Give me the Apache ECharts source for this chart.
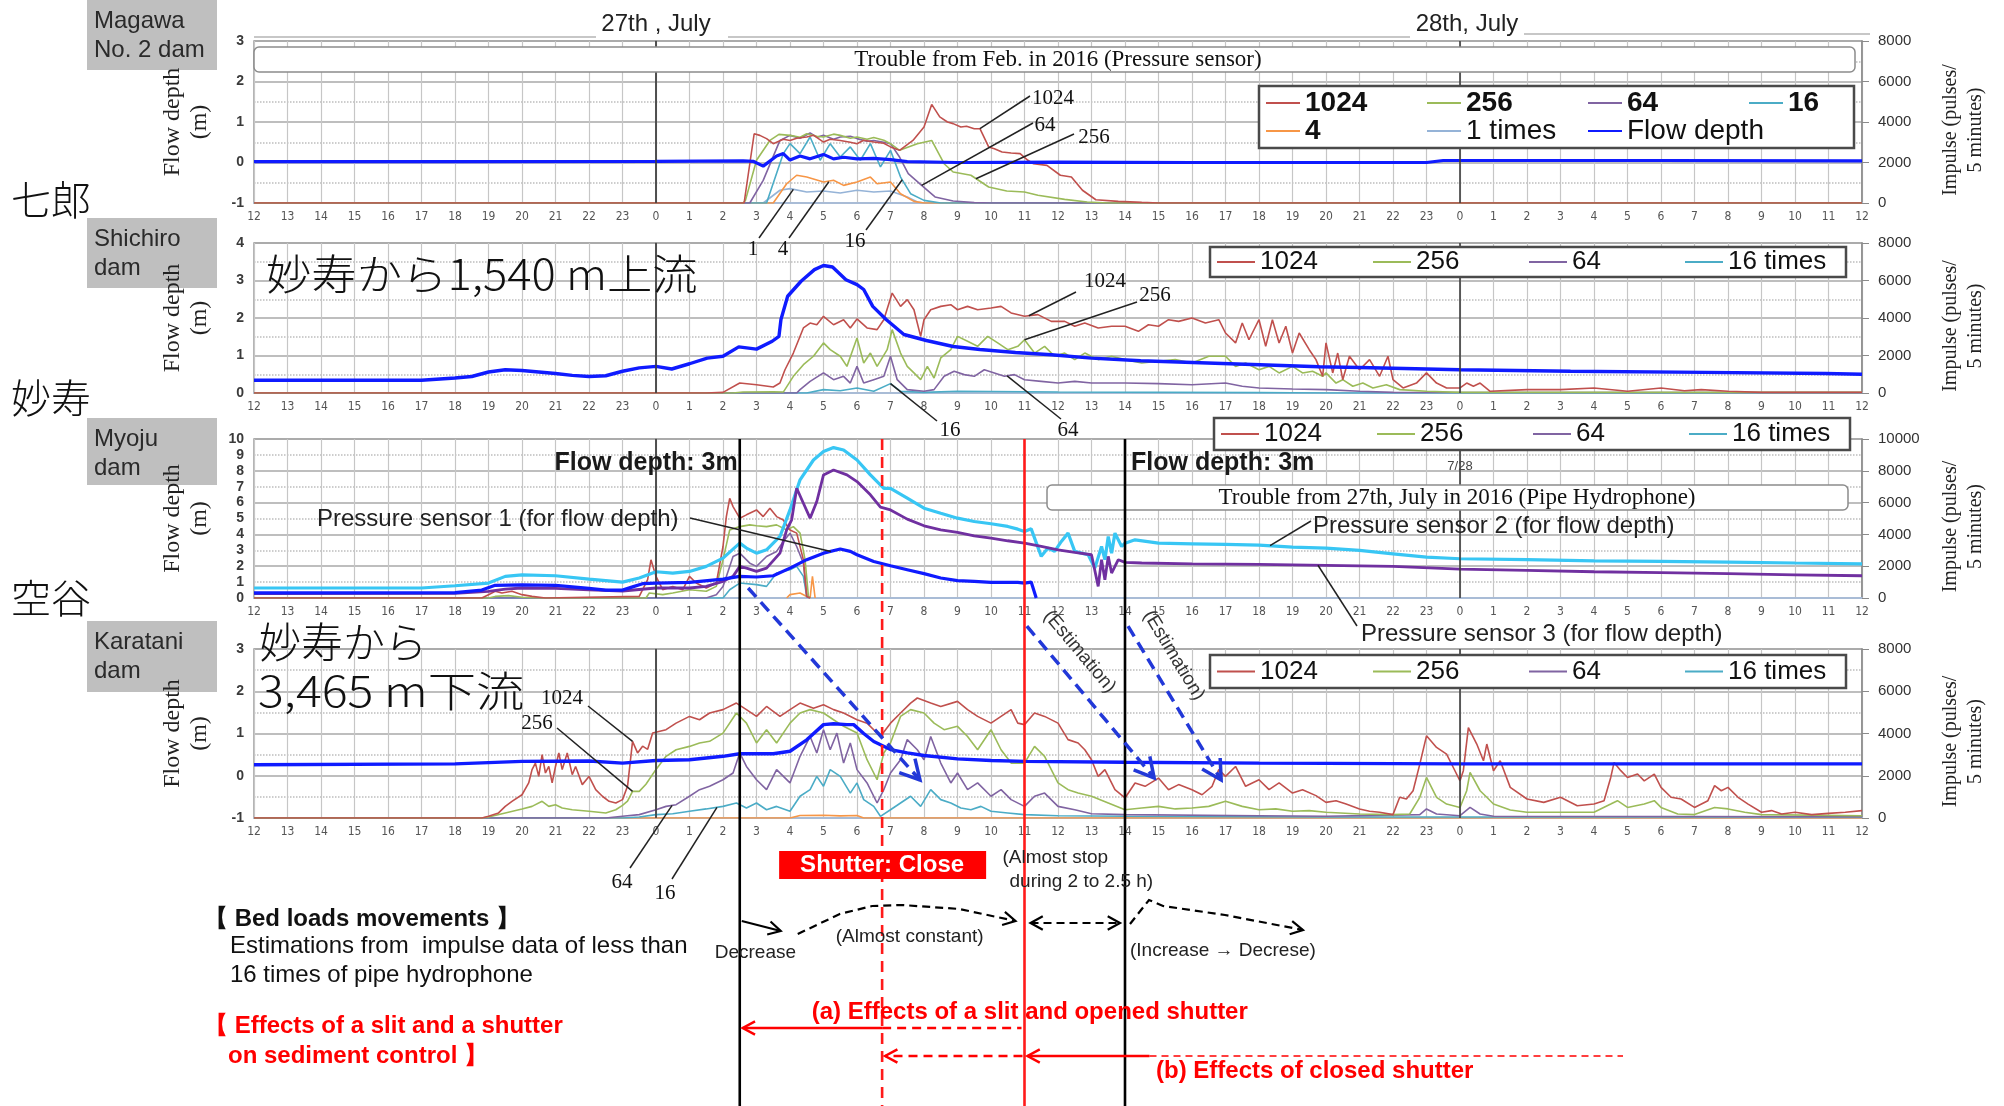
<!DOCTYPE html>
<html>
<head>
<meta charset="utf-8">
<script src="https://cdn.jsdelivr.net/npm/echarts@6/dist/echarts.min.js"></script>
<style>
html,body{margin:0;padding:0;background:#fff;}
#chart{width:2004px;height:1106px;}
</style>
</head>
<body>
<div id="chart"></div>
<script>
// ---- time axis: hours relative to 27 July 00:00 (26 Jul 12:00 -> 28 Jul 12:00) ----
const hourLabels = ['12','13','14','15','16','17','18','19','20','21','22','23',
  '0','1','2','3','4','5','6','7','8','9','10','11','12','13','14','15','16','17','18','19','20','21','22','23',
  '0','1','2','3','4','5','6','7','8','9','10','11','12'];

// ---- Magawa No.2 dam: flow depth (m) and pipe hydrophone impulses (pulses / 5 min) ----
const magawaFlow = [[-12,0.02],[-6,0.02],[0,0.03],[2.6,0.04],[2.9,0.03],[3.2,-0.09],[3.6,0.16],[3.8,0.22],[4.0,0.06],[4.3,0.16],[4.6,0.09],[5.0,0.2],[5.3,0.09],[5.6,0.13],[6.0,0.09],[6.5,0.1],[7.0,0.07],[7.5,0.02],[9,0.0],[12,0.01],[16,0.0],[20,0.0],[23,0.0],[23.5,0.05],[30,0.05],[36,0.04]];
const magawa1024 = [[-12,0],[2.63,0],[2.93,3420],[3.1,3340],[3.3,3180],[3.5,2930],[3.8,3150],[4.0,3090],[4.2,3200],[4.5,3260],[4.7,3350],[5.0,3010],[5.2,3150],[5.5,3090],[5.8,3000],[6.0,2930],[6.2,3100],[6.5,3010],[6.8,2950],[7.0,2770],[7.27,2600],[7.67,3090],[8.0,3750],[8.23,4870],[8.47,4250],[8.7,4000],[8.87,3920],[9.1,3750],[9.27,3790],[9.5,3670],[9.67,3670],[9.93,2770],[10.1,2680],[10.33,2520],[10.6,2470],[10.87,2440],[11.1,2110],[11.27,1940],[11.67,1860],[12.07,1370],[12.4,1280],[12.73,630],[13.13,160],[13.8,80],[14.5,30],[15,0],[36,0]];
const magawa256 = [[-12,0],[2.6,0],[2.67,130],[3.0,2110],[3.4,3090],[3.67,3390],[4.0,3340],[4.3,3250],[4.5,3420],[4.8,3300],[5.0,3260],[5.3,3400],[5.5,3340],[5.8,3200],[6.0,3260],[6.3,3150],[6.5,3230],[6.8,3100],[7.0,2930],[7.27,2600],[7.8,2930],[8.23,3090],[8.6,1940],[8.87,1530],[9.4,1370],[9.93,790],[10.47,590],[11.0,540],[11.4,380],[12.2,180],[12.87,50],[13.5,0],[36,0]];
const magawa64 = [[-12,0],[2.8,0],[3.2,1120],[3.7,3090],[4.0,3340],[4.3,3200],[4.6,3460],[4.8,3250],[5.0,3340],[5.3,3150],[5.5,3260],[5.8,3300],[6.0,3180],[6.3,3050],[6.5,3090],[6.8,3000],[7.0,2930],[7.27,2270],[7.53,1450],[7.93,870],[8.33,300],[8.87,100],[9.5,20],[10,0],[36,0]];
const magawa16 = [[-12,0],[3.3,0],[3.8,2440],[4.0,2930],[4.3,2440],[4.6,3260],[4.9,2110],[5.2,2930],[5.5,2270],[5.8,2770],[6.1,2110],[6.4,2930],[6.7,1780],[7.0,2600],[7.3,1280],[7.6,460],[8.0,130],[8.5,0],[36,0]];
const magawa4 = [[-12,0],[3.5,0],[3.9,950],[4.2,1370],[4.5,1280],[5.0,1040],[5.3,1120],[5.6,870],[6.0,1040],[6.4,1280],[6.6,950],[7.0,1040],[7.3,460],[7.7,80],[8,0],[36,0]];
const magawa1 = [[-12,0],[3.2,0],[3.7,630],[4.0,710],[4.5,540],[5.0,590],[5.5,490],[6.0,630],[6.5,540],[7.0,590],[7.5,300],[7.8,50],[8,0],[36,0]];

// ---- Shichiro dam ----
const shichiroFlow = [[-12,0.34],[-7,0.34],[-6,0.4],[-5.5,0.44],[-5,0.56],[-4.5,0.62],[-4,0.6],[-3.5,0.56],[-3,0.52],[-2.5,0.47],[-2,0.44],[-1.5,0.46],[-1,0.58],[-0.5,0.67],[0,0.71],[0.47,0.64],[1.0,0.78],[1.53,0.93],[2.0,0.98],[2.47,1.23],[3.0,1.17],[3.47,1.38],[3.67,1.51],[3.73,1.96],[3.93,2.58],[4.33,2.98],[4.73,3.29],[5.0,3.4],[5.27,3.36],[5.67,3.02],[6.0,2.89],[6.2,2.76],[6.47,2.31],[6.87,1.96],[7.4,1.56],[8.07,1.4],[8.87,1.24],[9.67,1.16],[10.73,1.08],[11.8,1.02],[13.0,0.93],[14.47,0.86],[15.8,0.82],[17.13,0.78],[18.47,0.74],[19.8,0.7],[21,0.68],[24,0.62],[27.3,0.58],[31.3,0.55],[34.9,0.52],[36,0.5]];
const shichiro1024 = [[-12,0],[1.5,0],[2.0,35],[2.5,530],[3.0,440],[3.5,320],[3.7,530],[3.85,1240],[4.1,2130],[4.4,3470],[4.6,3730],[4.8,3640],[5.0,4090],[5.3,3640],[5.6,3910],[5.8,3470],[6.0,3950],[6.3,3470],[6.6,3380],[6.8,3910],[7.05,5330],[7.3,4620],[7.5,4980],[7.7,4440],[7.9,3020],[8.0,3910],[8.2,4440],[8.5,4620],[8.8,4710],[9.0,4440],[9.3,4620],[9.6,4440],[10.0,4530],[10.3,4620],[10.6,4270],[11.0,4090],[11.4,4180],[11.8,3820],[12.2,3820],[12.5,3560],[12.8,3730],[13.2,3470],[13.6,3560],[14.0,3560],[14.4,3290],[14.7,3640],[15.0,3560],[15.3,3910],[15.6,3820],[16.0,4000],[16.4,3730],[16.8,3910],[17.0,3200],[17.3,2670],[17.5,3730],[17.7,2840],[18.0,3910],[18.2,2490],[18.4,3910],[18.6,2670],[18.8,3560],[19.0,2130],[19.2,3200],[19.5,2310],[19.7,1780],[19.9,890],[20.0,2670],[20.2,1070],[20.35,2130],[20.5,710],[20.7,1960],[21.0,1240],[21.3,1780],[21.6,890],[21.85,1960],[22.0,710],[22.3,270],[22.7,530],[23.0,1070],[23.3,530],[23.6,270],[24.0,270],[24.2,530],[24.4,360],[24.6,530],[24.9,90],[26,180],[27,180],[28,270],[29,90],[30,270],[30.7,120],[31.2,180],[32,90],[33,35],[36,35]];
const shichiro256 = [[-12,0],[2.3,0],[2.6,50],[3.5,60],[3.8,50],[4.1,890],[4.4,1510],[4.7,1960],[5.0,2670],[5.2,2310],[5.5,1960],[5.7,1420],[6.0,2930],[6.2,1600],[6.4,2130],[6.6,1420],[6.9,2310],[7.05,3380],[7.3,2130],[7.5,1420],[7.7,1070],[7.9,710],[8.1,1420],[8.3,800],[8.5,1870],[8.8,2310],[9.0,3020],[9.3,2760],[9.6,2490],[9.9,3020],[10.2,2670],[10.5,2310],[10.8,2490],[11.0,2840],[11.3,2130],[11.6,2490],[11.9,1960],[12.2,2130],[12.5,1780],[12.8,2130],[13.2,1780],[13.6,1960],[14.0,1780],[14.5,1600],[15.0,1690],[15.5,1780],[16.0,1600],[16.5,1960],[17.0,1960],[17.3,1420],[17.6,1600],[18.0,1240],[18.3,1420],[18.6,1070],[19.0,1420],[19.3,1070],[19.6,1160],[19.9,890],[20.0,1070],[20.3,530],[20.5,710],[20.8,360],[21.1,530],[21.4,270],[21.8,440],[22.2,180],[23.0,90],[24,35],[36,35]];
const shichiro64 = [[-12,0],[4.2,0],[4.3,180],[4.6,620],[5.0,1070],[5.3,710],[5.6,890],[5.8,530],[6.0,1420],[6.2,530],[6.5,710],[6.8,890],[7.0,1960],[7.2,710],[7.5,180],[8.0,90],[8.3,180],[8.6,890],[8.9,1160],[9.2,980],[9.5,890],[9.8,1240],[10.1,1070],[10.4,890],[10.7,980],[11.0,710],[11.5,620],[12.0,530],[12.5,620],[13.0,530],[14.0,530],[15.0,500],[16.0,440],[17.0,530],[17.5,360],[18.0,270],[19.0,210],[20.0,180],[21,90],[22,35],[36,20]];
const shichiro16 = [[-12,0],[4.5,0],[5.0,180],[5.5,120],[6.0,270],[6.5,90],[7.0,500],[7.3,90],[8.0,35],[9,90],[12,50],[18,20],[20,0],[36,0]];

// ---- Myoju dam: three pressure sensors (m) and impulses ----
const myojuPS1 = [[-12,0.32],[-6,0.34],[-5.2,0.5],[-4.8,0.8],[-4,0.82],[-3,0.8],[-2.5,0.7],[-2,0.6],[-1.5,0.5],[-1,0.5],[-0.7,0.7],[-0.4,0.9],[0,0.94],[1,0.98],[2,1.19],[2.5,1.36],[3,1.32],[3.5,1.4],[4,1.88],[4.5,2.41],[5,2.82],[5.5,3.08],[5.8,2.93],[6,2.72],[6.5,2.3],[7,2.03],[7.5,1.78],[8,1.53],[8.5,1.26],[9,1.09],[9.5,1.05],[10,0.98],[10.8,0.98],[11.0,0.94],[11.2,1.0],[11.35,0]];
const myojuPS2 = [[-12,0.63],[-7,0.63],[-6,0.77],[-5,0.94],[-4.5,1.36],[-4,1.46],[-3,1.4],[-2,1.19],[-1,1.0],[-0.5,1.26],[0,1.65],[0.5,1.57],[1,1.67],[1.5,1.99],[2,2.51],[2.5,3.45],[2.7,3.14],[3.0,2.82],[3.3,3.03],[3.7,3.87],[4.0,5.54],[4.3,7.43],[4.7,8.68],[5.0,9.21],[5.3,9.46],[5.6,9.31],[6.0,8.68],[6.4,7.74],[6.8,6.9],[7.0,6.9],[7.5,6.28],[8,5.65],[8.5,5.33],[9,5.02],[9.5,4.81],[10,4.67],[10.5,4.5],[10.8,4.33],[11.0,4.18],[11.2,4.35],[11.5,2.62],[11.7,3.14],[11.9,2.93],[12.1,3.56],[12.3,4.08],[12.5,2.93],[12.7,2.82],[12.9,2.72],[13.1,1.88],[13.3,3.24],[13.4,2.41],[13.5,3.87],[13.6,2.82],[13.7,4.08],[13.9,3.24],[14.0,3.45],[14.3,3.66],[15,3.45],[16,3.41],[17,3.37],[18,3.33],[19,3.2],[20,3.14],[21,2.99],[22,2.78],[23,2.57],[24,2.47],[26,2.41],[28,2.34],[30,2.3],[32,2.26],[34,2.2],[36,2.15]];
const myojuPS3 = [[-12,0.28],[-6,0.3],[-5,0.42],[-4.5,0.56],[-4,0.63],[-3,0.6],[-2,0.52],[-1,0.44],[0,0.63],[1,0.63],[1.5,0.73],[2,1.05],[2.3,1.36],[2.5,1.99],[2.7,1.88],[3.0,1.67],[3.3,1.88],[3.7,2.82],[3.9,4.29],[4.05,4.92],[4.2,6.9],[4.4,5.96],[4.6,5.02],[4.8,6.07],[5.0,7.74],[5.3,8.05],[5.7,7.74],[6.0,7.32],[6.4,6.49],[6.7,5.71],[7.0,5.54],[7.5,4.96],[8,4.54],[8.5,4.29],[9,4.12],[9.5,3.91],[10,3.77],[10.5,3.6],[11,3.45],[11.5,3.24],[12,3.03],[12.5,2.87],[13,2.72],[13.2,0.73],[13.3,2.41],[13.4,1.15],[13.5,2.62],[13.6,1.57],[13.8,2.41],[14.0,2.24],[14.5,2.2],[16,2.15],[18,2.11],[20,2.05],[22,1.99],[24,1.82],[26,1.74],[28,1.65],[30,1.59],[32,1.53],[34,1.46],[36,1.4]];
const myoju1024 = [[-12,0],[-5.2,0],[-5.0,210],[-4.8,420],[-4.6,310],[-4.3,420],[-4.0,210],[-3.7,100],[-3.3,0],[-0.5,100],[-0.25,1150],[-0.15,2400],[0,1360],[0.2,520],[0.5,730],[0.8,520],[1.0,1360],[1.2,940],[1.5,630],[1.8,940],[2.0,3240],[2.1,5120],[2.2,6270],[2.3,5750],[2.5,5020],[2.7,5230],[3.0,5540],[3.2,5120],[3.4,5640],[3.6,5120],[3.8,4910],[4.0,4280],[4.2,4080],[4.4,2400],[4.5,100],[4.6,0]];
const myoju256 = [[-12,0],[-5.0,0],[-4.8,100],[-4.4,150],[-4.0,50],[-3.5,0],[-0.3,0],[-0.2,310],[0.2,210],[0.5,310],[1,520],[1.5,420],[1.8,730],[2.0,2400],[2.2,4280],[2.5,4490],[2.8,4600],[3.0,4540],[3.3,4490],[3.6,4600],[3.9,4280],[4.1,4490],[4.3,4080],[4.45,2400],[4.55,100],[4.6,0]];
const myoju64 = [[-12,0],[1.5,0],[1.8,210],[2.0,730],[2.3,2610],[2.5,2820],[2.8,2190],[3.0,1990],[3.3,2610],[3.6,2930],[3.8,3550],[4.0,4080],[4.2,3240],[4.4,2190],[4.5,100],[4.6,0]];
const myoju16 = [[-12,0],[2.0,0],[2.2,520],[2.5,940],[3.0,840],[3.3,730],[3.6,1570],[4.0,1780],[4.2,1990],[4.4,1360],[4.5,100],[4.6,0]];
const myoju4 = [[3.9,0],[4.0,210],[4.3,310],[4.5,100],[4.6,0],[4.67,1360],[4.75,0]];

// ---- Karatani dam ----
const karataniFlow = [[-12,0.26],[-6,0.28],[-4,0.34],[-2,0.35],[-1,0.3],[0,0.36],[1,0.38],[2,0.46],[2.5,0.52],[3.5,0.52],[4,0.58],[4.5,0.85],[5.0,1.21],[5.3,1.23],[5.7,1.21],[5.9,1.21],[6.2,1.0],[6.5,0.81],[7.0,0.62],[7.5,0.54],[8,0.48],[9,0.4],[10,0.36],[11,0.34],[14,0.32],[18,0.3],[24,0.28],[36,0.28]];
const karatani1024 = [[-12,0],[-5.2,0],[-5.0,80],[-4.7,240],[-4.5,550],[-4.3,790],[-4.0,1100],[-3.8,1660],[-3.7,2290],[-3.6,2600],[-3.5,1970],[-3.4,3000],[-3.3,2130],[-3.2,2440],[-3.1,1660],[-3.0,2440],[-2.9,3080],[-2.8,2290],[-2.65,3080],[-2.5,2050],[-2.4,2440],[-2.2,1580],[-2.0,1970],[-1.8,1340],[-1.6,1030],[-1.4,790],[-1.2,710],[-1.0,870],[-0.85,1500],[-0.7,3630],[-0.55,3080],[-0.4,3400],[-0.25,3250],[-0.1,4020],[0.3,4180],[0.6,4490],[1.0,4810],[1.3,4650],[1.6,4970],[2.0,5130],[2.4,5440],[2.7,5130],[3.0,4810],[3.3,5280],[3.7,4810],[4.0,5130],[4.3,5440],[4.7,5200],[5.0,5360],[5.3,5130],[5.6,4970],[6.0,4650],[6.3,4490],[6.7,3860],[7.0,4490],[7.3,4970],[7.6,5440],[7.8,5680],[8.2,5440],[8.5,5280],[9.0,5520],[9.3,5130],[9.6,4810],[10.0,4490],[10.3,4810],[10.6,5130],[10.8,4490],[11.0,4420],[11.3,4970],[11.6,4810],[12.0,4490],[12.3,3710],[12.6,3550],[12.8,3230],[13.0,2760],[13.2,1970],[13.4,2290],[13.7,1340],[14.0,950],[14.3,1660],[14.6,1500],[15.0,1890],[15.3,1340],[15.6,1580],[16.0,1340],[16.3,1100],[16.6,1500],[16.8,2290],[17.0,1970],[17.3,2440],[17.6,1500],[18.0,1810],[18.3,1340],[18.6,1660],[19.0,1180],[19.3,1340],[19.7,1060],[20.0,740],[20.3,820],[20.6,660],[21.0,430],[21.3,320],[21.6,270],[22.0,160],[22.2,980],[22.4,900],[22.6,1290],[22.8,2550],[23.0,3890],[23.3,3340],[23.6,3020],[23.8,2390],[24.0,1760],[24.1,2240],[24.25,4280],[24.5,3500],[24.7,2710],[24.8,3500],[25.0,2240],[25.2,2710],[25.5,1450],[26.0,900],[26.5,740],[27.0,980],[27.5,580],[28.0,660],[28.3,820],[28.5,1920],[28.6,2630],[28.8,2240],[29.0,1920],[29.3,2080],[29.5,1760],[29.8,2080],[30.0,1450],[30.3,980],[30.6,900],[31.0,500],[31.4,820],[31.6,1530],[31.8,1290],[32.0,1450],[32.3,980],[32.6,660],[33.0,270],[33.3,350],[33.6,190],[34.0,270],[34.5,160],[35.0,220],[35.5,270],[36.0,350]];
const karatani256 = [[-12,0],[-5.2,0],[-5.0,50],[-4.5,240],[-4.0,430],[-3.7,550],[-3.4,790],[-3.2,550],[-3.0,630],[-2.8,470],[-2.5,390],[-2,320],[-1.5,240],[-1.2,390],[-1.0,600],[-0.85,800],[-0.7,1260],[-0.5,1260],[-0.3,1600],[0,2300],[0.3,2920],[0.6,3230],[1.0,3390],[1.3,3550],[1.6,3630],[2.0,4020],[2.4,4970],[2.7,4490],[3.0,3550],[3.3,4180],[3.6,3550],[4.0,4490],[4.3,4970],[4.6,5130],[5.0,4970],[5.3,4650],[5.6,4340],[6.0,4020],[6.3,2760],[6.6,1810],[6.8,3080],[7.0,3550],[7.3,4810],[7.6,5130],[8.0,4970],[8.3,4490],[8.6,4180],[9.0,4340],[9.3,3860],[9.6,3230],[10.0,4180],[10.3,3230],[10.6,2600],[11.0,2600],[11.3,3390],[11.6,2920],[12.0,1660],[12.3,1340],[12.6,1180],[13.0,1030],[13.5,710],[14.0,390],[14.5,470],[15.0,550],[15.5,430],[16.0,470],[16.5,550],[17.0,790],[17.5,550],[18.0,390],[18.5,430],[19.0,320],[19.5,350],[20.0,270],[21,190],[22,160],[22.5,190],[22.8,980],[23.0,1920],[23.3,980],[23.6,660],[24.0,500],[24.2,1290],[24.3,2160],[24.6,1290],[24.8,980],[25.0,660],[25.5,380],[26,270],[28,270],[28.5,660],[28.7,820],[29,500],[29.5,660],[29.8,820],[30.0,500],[30.5,190],[31,160],[31.6,500],[32,430],[32.5,270],[33,160],[36,110]];
const karatani64 = [[-12,0],[-1.5,0],[-1,80],[-0.5,160],[0,390],[0.3,550],[0.6,630],[1.0,1030],[1.3,1340],[1.6,1500],[2.0,1810],[2.3,2130],[2.5,3080],[2.7,2440],[3.0,1810],[3.3,1340],[3.6,2290],[4.0,1660],[4.3,2920],[4.6,3860],[4.8,3080],[5.0,4180],[5.2,3230],[5.4,4020],[5.6,2600],[5.8,3550],[6.0,2290],[6.3,1660],[6.6,710],[6.8,1340],[7.0,2130],[7.3,2760],[7.5,3710],[7.8,3230],[8.0,2760],[8.2,3860],[8.5,2600],[8.8,1660],[9.0,2130],[9.3,1340],[9.6,1660],[10.0,1030],[10.3,1340],[10.6,870],[11.0,550],[11.3,1030],[11.6,1180],[12.0,550],[12.5,390],[13.0,200],[14,160],[18,110],[20,80],[22.8,160],[23.0,430],[23.3,190],[24.0,110],[24.3,500],[24.6,190],[25,80],[36,60]];
const karatani16 = [[-12,0],[-1,0],[-0.5,50],[0,160],[0.5,200],[1,320],[1.5,430],[2.0,550],[2.4,710],[2.7,470],[3.0,710],[3.3,390],[3.6,550],[4.0,320],[4.3,1030],[4.6,1340],[4.8,1970],[5.0,1500],[5.2,2290],[5.5,1970],[5.8,1180],[6.0,1660],[6.2,870],[6.5,550],[6.7,80],[7.0,390],[7.3,710],[7.6,1030],[7.9,550],[8.2,1340],[8.5,870],[8.8,710],[9.1,470],[9.4,390],[9.7,550],[10,320],[10.5,240],[11,160],[12,110],[14,80],[20,50],[36,50]];
const karatani4 = [[-12,0],[4.0,0],[4.3,120],[5.0,130],[5.5,100],[6.0,120],[6.2,0],[36,0]];

// ---- styling ----
const SANS = "'Liberation Sans', Arial, sans-serif";
const NARROW = "'Liberation Sans Narrow', 'DejaVu Sans Condensed', 'Liberation Sans', sans-serif";
const SERIF = "'Liberation Serif', 'Times New Roman', serif";
const JP = "'Noto Sans CJK JP', 'Noto Sans CJK SC', sans-serif";
const C = {
  r1024: '#c0504d', g256: '#9bbb59', p64: '#8064a2', t16: '#4bacc6', o4: '#f79646', b1: '#95b3d7',
  flow: '#0f1bff', ps2: '#38c6f4', ps3: '#7030a0'
};

const gridBoxes = [
  { top: 41, height: 162 },
  { top: 243, height: 150 },
  { top: 439, height: 159 },
  { top: 649, height: 169 }
];

const chart = echarts.init(document.getElementById('chart'), null, { renderer: 'canvas' });

function xAxisFor(i) {
  return {
    gridIndex: i, type: 'value', min: -12, max: 36, interval: 1,
    axisLine: { show: true, onZero: false, lineStyle: { color: '#a9bcd6', width: 2 } },
    axisTick: { show: false },
    splitLine: { show: true, lineStyle: { color: '#c6c6c6', width: 1.2 } },
    axisLabel: { formatter: v => hourLabels[v + 12], fontSize: 12, color: '#555', margin: 8, fontFamily: NARROW }
  };
}
function leftAxis(i, min, max, grid) {
  return {
    gridIndex: i, type: 'value', min, max, interval: 1, position: 'left',
    axisLine: { show: true, lineStyle: { color: '#8a8a8a', width: 1.5 } },
    axisTick: { show: false },
    axisLabel: { fontSize: 14, fontWeight: 'bold', color: '#3a3a3a', margin: 10, fontFamily: SANS },
    splitLine: { show: grid, lineStyle: { color: '#a8a8a8', width: 1.6 } },
    minorTick: { show: false, splitNumber: 2 },
    minorSplitLine: { show: grid, lineStyle: { color: '#bdbdbd', width: 1.5, type: 'dotted' } }
  };
}
function rightAxis(i, max) {
  return {
    gridIndex: i, type: 'value', min: 0, max, interval: 2000, position: 'right',
    axisLine: { show: true, lineStyle: { color: '#8a8a8a', width: 1.5 } },
    axisTick: { show: true, length: 7, lineStyle: { color: '#8a8a8a' } },
    axisLabel: { fontSize: 15, color: '#333', margin: 16, fontFamily: SANS, formatter: v => String(v) },
    splitLine: { show: false }
  };
}

const yAxes = [
  leftAxis(0, -1, 3, true), rightAxis(0, 8000),           // 0,1 Magawa
  leftAxis(1, 0, 4, true), rightAxis(1, 8000),            // 2,3 Shichiro
  leftAxis(2, 0, 10, false), rightAxis(2, 10000),         // 4,5 Myoju
  { gridIndex: 2, type: 'value', min: 0, max: 10, interval: 2, position: 'left',   // 6 Myoju grid lines
    axisLine: { show: false }, axisTick: { show: false }, axisLabel: { show: false },
    splitLine: { show: true, lineStyle: { color: '#a8a8a8', width: 1.6 } },
    minorTick: { show: false, splitNumber: 2 },
    minorSplitLine: { show: true, lineStyle: { color: '#bdbdbd', width: 1.5, type: 'dotted' } } },
  leftAxis(3, -1, 3, true), rightAxis(3, 8000)            // 7,8 Karatani
];

const dayLines = {
  silent: true, symbol: 'none', label: { show: false },
  lineStyle: { color: '#3c3c3c', width: 1.6, type: 'solid' },
  data: [{ xAxis: 0 }, { xAxis: 24 }]
};

function line(name, g, ax, data, color, width, z, extra) {
  return Object.assign({
    name, type: 'line', xAxisIndex: g, yAxisIndex: ax, data, symbol: 'none', showSymbol: false,
    lineStyle: { color, width }, itemStyle: { color }, z: z || 2, silent: true, animation: false
  }, extra || {});
}

const series = [
  // Magawa
  line('1 times', 0, 1, magawa1, C.b1, 1.6),
  line('4', 0, 1, magawa4, C.o4, 1.6),
  line('16', 0, 1, magawa16, C.t16, 1.6),
  line('64', 0, 1, magawa64, C.p64, 1.6),
  line('256', 0, 1, magawa256, C.g256, 1.6),
  line('1024', 0, 1, magawa1024, C.r1024, 1.6),
  line('Flow depth', 0, 0, magawaFlow, C.flow, 3.2, 4, { markLine: dayLines }),
  // Shichiro
  line('16 times', 1, 3, shichiro16, C.t16, 1.6),
  line('64', 1, 3, shichiro64, C.p64, 1.6),
  line('256', 1, 3, shichiro256, C.g256, 1.6),
  line('1024', 1, 3, shichiro1024, C.r1024, 1.6),
  line('Flow depth (Shichiro)', 1, 2, shichiroFlow, C.flow, 3.4, 4, { markLine: dayLines }),
  // Myoju
  line('4', 2, 5, myoju4, C.o4, 1.6),
  line('16 times', 2, 5, myoju16, C.t16, 1.6),
  line('64', 2, 5, myoju64, C.p64, 1.6),
  line('256', 2, 5, myoju256, C.g256, 1.6),
  line('1024', 2, 5, myoju1024, C.r1024, 1.6),
  line('Pressure sensor 2', 2, 4, myojuPS2, C.ps2, 3.2, 4),
  line('Pressure sensor 3', 2, 4, myojuPS3, C.ps3, 2.8, 4),
  line('Pressure sensor 1', 2, 4, myojuPS1, C.flow, 3.2, 5, { markLine: dayLines }),
  // Karatani
  line('4', 3, 8, karatani4, C.o4, 1.6),
  line('16 times', 3, 8, karatani16, C.t16, 1.6),
  line('64', 3, 8, karatani64, C.p64, 1.6),
  line('256', 3, 8, karatani256, C.g256, 1.6),
  line('1024', 3, 8, karatani1024, C.r1024, 1.6),
  line('Flow depth (Karatani)', 3, 7, karataniFlow, C.flow, 3.4, 4, { markLine: dayLines })
];

function legendFor(left, top, names, pitch, iconW, fontSize, padding, lineH, widthTotal) {
  return {
    left, top, orient: 'horizontal', width: widthTotal, selectedMode: false,
    itemWidth: iconW, itemHeight: 12, itemGap: 0,
    itemStyle: { opacity: 0 },
    data: names,
    textStyle: { fontSize, color: '#111', fontFamily: SANS, width: pitch - iconW - 5, overflow: 'none', lineHeight: lineH },
    borderColor: '#4a4a4a', borderWidth: 2.5, padding, backgroundColor: '#fff', z: 20
  };
}
const named = (n, bold, w) => {
  const t = {};
  if (bold) t.fontWeight = 'bold';
  if (w) t.width = w;
  return { name: n, textStyle: t };
};

const option = {
  animation: false,
  backgroundColor: '#fff',
  grid: gridBoxes.map(b => ({ left: 254, width: 1608, top: b.top, height: b.height, show: true, borderColor: '#9a9a9a', borderWidth: 1.5 })),
  xAxis: [0, 1, 2, 3].map(xAxisFor),
  yAxis: yAxes,
  legend: [
    legendFor(1259, 86, [named('1024', true), named('256', true), named('64', true), named('16', true, 60),
      named('4', true), named('1 times'), named('Flow depth', false, 60)], 160, 34, 28, [3, 6], 26, 630),
    legendFor(1210, 247, ['1024', '256', '64', '16 times'], 155, 38, 26, [1, 6], 28, 640),
    legendFor(1214, 418, ['1024', '256', '64', '16 times'], 155, 38, 26, [2, 6], 28, 640),
    legendFor(1210, 655, ['1024', '256', '64', '16 times'], 155, 38, 26, [2, 6], 29, 640)
  ],
  series
};
chart.setOption(option);

// ---------- annotations placed through the axes' own scales ----------
const X = (g, h) => chart.convertToPixel({ xAxisIndex: g }, h);
const Y = (a, v) => chart.convertToPixel({ yAxisIndex: a }, v);
const els = [];
function T(x, y, text, font, o) {
  o = o || {};
  els.push({ type: 'text', x, y, rotation: o.rot || 0, scaleX: o.sx || 1, z: o.z || 130, silent: true,
    style: { text, font, fill: o.color || '#111', textAlign: o.align || 'left', align: o.align || 'left',
      textVerticalAlign: 'middle', verticalAlign: 'middle', lineHeight: o.lh } });
}
function L(x1, y1, x2, y2, color, w, dash, z) {
  els.push({ type: 'line', z: z || 120, silent: true, shape: { x1, y1, x2, y2 },
    style: { stroke: color, lineWidth: w, lineDash: dash || null } });
}
function PL(points, color, w, dash, z) {
  els.push({ type: 'polyline', z: z || 120, silent: true, shape: { points },
    style: { stroke: color, lineWidth: w, lineDash: dash || null, fill: null } });
}
function R(x, y, w, h, fill, stroke, lw, r, z) {
  els.push({ type: 'rect', z: z || 100, silent: true, shape: { x, y, width: w, height: h, r: r || 0 },
    style: { fill, stroke: stroke || null, lineWidth: lw || 0 } });
}
function head(tx, ty, fx, fy, color, w, size, z) {
  const a = Math.atan2(ty - fy, tx - fx), s = 0.5;
  PL([[tx - size * Math.cos(a - s), ty - size * Math.sin(a - s)], [tx, ty],
      [tx - size * Math.cos(a + s), ty - size * Math.sin(a + s)]], color, w, null, z);
}

// dam name plates and Japanese place names
const plates = [['Magawa', 'No. 2 dam', 0, 70], ['Shichiro', 'dam', 218, 70], ['Myoju', 'dam', 418, 67], ['Karatani', 'dam', 621, 71]];
plates.forEach(p => {
  R(87, p[2], 130, p[3], '#bfbfbf');
  T(94, p[2] + 21, p[0], "24px " + SANS, { color: '#2a2a2a' });
  T(94, p[2] + 50, p[1], "24px " + SANS, { color: '#2a2a2a' });
});
T(11, 200, '七郎', "300 40px " + JP);
T(11, 398, '妙寿', "300 40px " + JP);
T(11, 598, '空谷', "300 40px " + JP);
T(266, 274, '妙寿から1,540 m上流', "300 42px " + JP, { sx: 1.08 });
T(259, 642, '妙寿から', "300 42px " + JP);
T(258, 691, '3,465 m下流', "300 42px " + JP, { sx: 1.15 });

// axis titles
gridBoxes.forEach(b => {
  const cy = b.top + b.height / 2;
  T(186, cy, 'Flow depth\n(m)', "24px " + SERIF, { rot: Math.PI / 2, align: 'center', lh: 27, color: '#222' });
  T(1963, cy + 8, 'Impulse (pulses/\n5 minutes)', "20px " + SERIF, { rot: Math.PI / 2, align: 'center', lh: 25, color: '#222' });
});

// date captions and top rule
L(254, 37, 596, 37, '#b4b4b4', 1.5);
L(728, 37, 1410, 37, '#b4b4b4', 1.5);
L(1524, 34, 1870, 34, '#b4b4b4', 1.5);
T(X(0, 0), 24, '27th , July', "24px " + SANS, { align: 'center', color: '#222' });
T(X(0, 24) + 7, 24, '28th, July', "24px " + SANS, { align: 'center', color: '#222' });

// trouble notes
R(254, 47, 1601, 25, '#fff', '#8c8c8c', 1.5, 5);
T(X(0, 12), 60, 'Trouble from Feb. in 2016 (Pressure sensor)', "23px " + SERIF, { align: 'center' });
R(1047, 485, 801, 25, '#fff', '#8c8c8c', 1.5, 5);
T(X(2, 24) - 3, 498, 'Trouble from 27th, July in 2016 (Pipe Hydrophone)', "23px " + SERIF, { align: 'center' });
T(X(2, 24), 466, '7/28', "13px " + SANS, { align: 'center', color: '#444' });

// series call-outs: [grid, y axis, text, text x, text y, leader start x, y, hour, value, font]
const callouts = [
  [0, 1, '1024', 1053, 98, 1030, 96, 9.67, 3670, 'serif'],
  [0, 1, '64', 1045, 125, 1033, 123, 7.93, 870, 'serif'],
  [0, 1, '256', 1094, 137, 1074, 134, 9.55, 1200, 'serif'],
  [0, 1, '1', 753, 249, 759, 238, 4.1, 676, 'serif'],
  [0, 1, '4', 783, 249, 789, 238, 5.16, 1050, 'serif'],
  [0, 1, '16', 855, 241, 866, 230, 7.35, 1150, 'serif'],
  [1, 3, '1024', 1105, 281, 1076, 292, 11.13, 4120, 'serif'],
  [1, 3, '256', 1155, 295, 1137, 302, 11.0, 2840, 'serif'],
  [1, 3, '16', 950, 430, 937, 421, 7.0, 500, 'serif'],
  [1, 3, '64', 1068, 430, 1061, 419, 10.48, 914, 'serif'],
  [3, 8, '1024', 562, 698, 588, 706, -0.7, 3630, 'serif'],
  [3, 8, '256', 537, 723, 557, 728, -0.7, 1260, 'serif'],
  [3, 8, '64', 622, 882, 630, 868, 0.48, 600, 'serif'],
  [3, 8, '16', 665, 893, 672, 879, 1.82, 507, 'serif'],
  [2, 4, 'Pressure sensor 1 (for flow depth)', 317, 519, 690, 518, 5.22, 2.93, 'sans'],
  [2, 4, 'Pressure sensor 2 (for flow depth)', 1313, 526, 1311, 521, 18.33, 3.29, 'sans'],
  [2, 4, 'Pressure sensor 3 (for flow depth)', 1361, 634, 1357, 626, 19.76, 2.06, 'sans']
];
callouts.forEach(c => {
  const ex = X(c[0], c[7]), ey = Y(c[1], c[8]);
  L(c[5], c[6], ex, ey, '#222', 1.5, null, 125);
  if (c[9] === 'serif') T(c[3], c[4], c[2], "21px " + SERIF, { align: 'center' });
  else T(c[3], c[4], c[2], "24px " + SANS, { color: '#222' });
});

// event lines through the Myoju and Karatani panels
const xA = X(3, 2.5), xB = X(3, 6.75), xC = X(3, 11), xD = X(3, 14);
const top3 = Y(4, 10);
L(xA, top3, xA, 1106, '#000', 2.6, null, 118);
L(xB, top3, xB, 1106, '#ff1a1a', 2.6, [11, 7], 118);
L(xC, top3, xC, 1106, '#ff1a1a', 2.6, null, 118);
L(xD, top3, xD, 1106, '#000', 2.6, null, 118);
T(xA - 2, 463, 'Flow depth: 3m', "bold 25px " + SANS, { align: 'right', color: '#1a1a1a' });
T(xD + 6, 463, 'Flow depth: 3m', "bold 25px " + SANS, { color: '#1a1a1a' });

// estimated travel of bed load (dashed blue arrows)
const blue = '#2238d8';
const arrows = [
  [X(2, 2.75), Y(4, 0.63), X(3, 7.88), Y(7, -0.1)],
  [X(3, 11.07), Y(7, 3.54), X(3, 14.87), Y(7, -0.05)],
  [X(3, 14.09), Y(7, 3.54), X(3, 16.87), Y(7, -0.1)]
];
arrows.forEach((a, i) => {
  L(a[0], a[1], a[2], a[3], blue, 3.5, [12, 7], 122);
  head(a[2], a[3], a[0], a[1], blue, 3.5, 22, 122);
  if (i > 0) {
    const dx = a[2] - a[0], dy = a[3] - a[1], len = Math.hypot(dx, dy);
    const f = 0.27, off = 24;
    const cx = a[0] + f * dx + off * dy / len, cy = a[1] + f * dy - off * dx / len;
    T(cx, cy, '(Estimation)', "19px " + SANS, { align: 'center', rot: -Math.atan2(dy, dx), color: '#333' });
  }
});

// shutter operation
R(xB - 103, 851, 207, 28, '#ff0000', null, 0, 0, 126);
T(xB, 865, 'Shutter: Close', "bold 24px " + SANS, { align: 'center', color: '#fff' });
T(xC - 22, 858, '(Almost stop', "19px " + SANS, { color: '#222' });
T(xC - 15, 882, 'during 2 to 2.5 h)', "19px " + SANS, { color: '#222' });

// bed load movement sketch
T(204, 919, '【 Bed loads movements 】', "bold 24px " + SANS, { color: '#111' });
T(230, 946, 'Estimations from  impulse data of less than', "24px " + SANS, { color: '#111' });
T(230, 975, '16 times of pipe hydrophone', "24px " + SANS, { color: '#111' });
L(xA + 2, 921, xA + 41, 931, '#000', 2.2);
head(xA + 41, 931, xA + 2, 921, '#000', 2.2, 14);
T(xA - 25, 953, 'Decrease', "19px " + SANS, { color: '#222' });
PL([[xA + 58, 934], [xA + 100, 914], [xB - 10, 906], [xB + 20, 905], [xC - 65, 909], [xC - 9, 921]], '#000', 2.2, [8, 5]);
head(xC - 9, 921, xC - 65, 909, '#000', 2.2, 14);
T(xA + 96, 937, '(Almost constant)', "19px " + SANS, { color: '#222' });
L(xC + 6, 923, xD - 5, 923, '#000', 2.2, [8, 5]);
head(xC + 6, 923, xD - 5, 923, '#000', 2.2, 14);
head(xD - 5, 923, xC + 6, 923, '#000', 2.2, 14);
PL([[xD + 5, 924], [xD + 24, 900], [xD + 38, 906], [xD + 100, 915], [xD + 178, 930]], '#000', 2.2, [8, 5]);
head(xD + 178, 930, xD + 100, 915, '#000', 2.2, 14);
T(xD + 5, 951, '(Increase → Decrese)', "19px " + SANS, { color: '#222' });

// effects of slit and shutter
const red = '#ff0000';
T(204, 1026, '【 Effects of a slit and a shutter', "bold 24px " + SANS, { color: red });
T(228, 1056, 'on sediment control 】', "bold 24px " + SANS, { color: red });
T(xA + 72, 1012, '(a) Effects of a slit and opened shutter', "bold 24px " + SANS, { color: red });
L(xB, 1028, xA + 3, 1028, red, 2.5);
head(xA + 3, 1028, xB, 1028, red, 2.5, 14);
L(xB, 1028, xC - 3, 1028, red, 2.5, [9, 6]);
L(xC - 2, 1056, xB + 3, 1056, red, 2.5, [9, 6]);
head(xB + 3, 1056, xC, 1056, red, 2.5, 14);
L(xC + 125, 1056, xC + 3, 1056, red, 2.5);
head(xC + 3, 1056, xC + 125, 1056, red, 2.5, 14);
L(xC + 125, 1056, 1623, 1056, red, 1.5, [7, 5]);
T(xD + 31, 1071, '(b) Effects of closed shutter', "bold 24px " + SANS, { color: red });

chart.setOption({ graphic: els });
</script>
</body>
</html>
